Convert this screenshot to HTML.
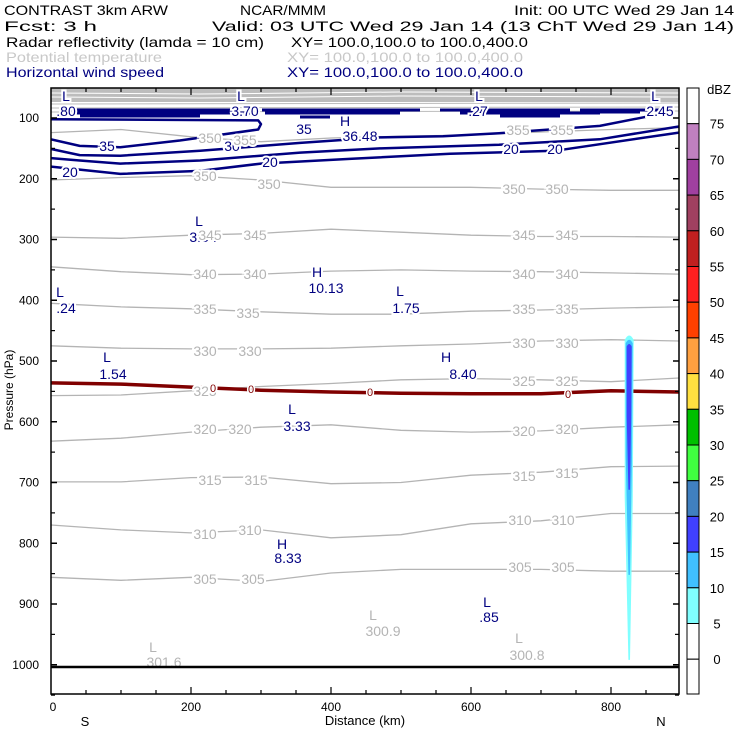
<!DOCTYPE html>
<html><head><meta charset="utf-8"><style>
html,body{margin:0;padding:0;background:#fff}
svg{display:block;font-family:"Liberation Sans",sans-serif}
</style></head><body>
<svg id="c" width="740" height="740" viewBox="0 0 740 740" xmlns="http://www.w3.org/2000/svg">
<g font-size="14">
<text x="4" y="15" textLength="164" lengthAdjust="spacingAndGlyphs">CONTRAST  3km ARW</text>
<text x="240" y="15" textLength="86" lengthAdjust="spacingAndGlyphs">NCAR/MMM</text>
<text x="514" y="15" textLength="220" lengthAdjust="spacingAndGlyphs">Init: 00 UTC Wed 29 Jan 14</text>
<text x="4" y="31" textLength="93" lengthAdjust="spacingAndGlyphs">Fcst:    3 h</text>
<text x="212" y="31" textLength="522" lengthAdjust="spacingAndGlyphs">Valid: 03 UTC Wed 29 Jan 14 (13 ChT Wed 29 Jan 14)</text>
<text x="6" y="47" textLength="258" lengthAdjust="spacingAndGlyphs">Radar reflectivity (lamda = 10 cm)</text>
<text x="291" y="47" textLength="237" lengthAdjust="spacingAndGlyphs">XY= 100.0,100.0 to 100.0,400.0</text>
<text x="6" y="62" fill="#c8c8c8" textLength="156" lengthAdjust="spacingAndGlyphs">Potential temperature</text>
<text x="287" y="62" fill="#c8c8c8" textLength="236" lengthAdjust="spacingAndGlyphs">XY= 100.0,100.0 to 100.0,400.0</text>
<text x="6" y="77" fill="#000080" textLength="158" lengthAdjust="spacingAndGlyphs">Horizontal wind speed</text>
<text x="287" y="77" fill="#000080" textLength="236" lengthAdjust="spacingAndGlyphs">XY= 100.0,100.0 to 100.0,400.0</text>
</g>
<g id="plot"></g>
</svg>
<script>
// ---- data ----
const nodesKm=[0,100,200,300,400,500,600,700,800,897];
const thetaLevels=[355,350,345,340,335,330,325,320,315,310,305];
const theta355=[124,119,131,139,133,130,128,123,119,116];
const theta350=[202,198,195,202,214,214,214,217,219,219];
const theta345=[296,298,293,290,283,288,293,295,295,296];
const theta340=[345,353,358,357,352,350,352,353,355,357];
const theta335=[405,411,414,419,423,423,418,416,413,411];
const theta330=[475,479,480,480,479,475,472,467,465,467];
const theta325=[557,556,549,542,537,531,529,531,534,528];
const theta320=[632,627,617,609,605,614,617,615,609,605];
const theta315=[699,699,692,691,702,700,688,683,674,673];
const theta310=[770,778,783,778,791,786,768,763,751,751];
const theta305=[856,861,856,863,849,843,843,843,846,846];
const freezeP=[536,538,543,548,551,553,554,554,549,551];
const windKm35=[0,41,99,184,296,300,296,0];
const windP35=[135,146,148,137,119,110,104,102];
const windKm30=[0,41,99,213,356,470,560,640,784,850];
const windP30=[151,161,162,154,141,132,130,125,113,98];
const windKm25=[0,41,99,213,356,470,640,784,897];
const windP25=[166,170,175,170,157,150,144,135,114];
const windKm20=[0,41,99,213,300,430,570,720,897];
const windP20=[180,185,192,187,175,167,159,154,124];
const reflLevels=[5,10,15];
const reflTopP=[458,465,472];
const reflBottomP=[992,852,712];
const dbzLevels=[0,5,10,15,20,25,30,35,40,45,50,55,60,65,70,75];
const dbzColors=["#ffffff","#80ffff","#40c0ff","#4040ff","#4080c0","#40ff40","#00c000","#ffe040","#ffa040","#ff4000","#ff2020","#c02020","#a04060","#a040a0","#c080c0","#ffffff"];
const pTicks=[100,200,300,400,500,600,700,800,900,1000];
const xTicks=[0,200,400,600,800];

// ---- scales ----
const X=km=>51+km*0.7;
const Y=p=>118+(p-100)*0.6075;
const NS="http://www.w3.org/2000/svg";
const plot=document.getElementById('plot');
function mk(tag,attrs,parent){const e=document.createElementNS(NS,tag);for(const k in attrs)e.setAttribute(k,attrs[k]);(parent||plot).appendChild(e);return e;}
function txt(s,x,y,fill,size,anchor,parent){const t=mk('text',{x:x,y:y,fill:fill,'font-size':size,'text-anchor':anchor||'start'},parent);t.textContent=s;return t;}

const defs=mk('defs',{});
const cp=mk('clipPath',{id:'clip'},defs);
mk('rect',{x:51,y:88,width:628,height:606},cp);
const g=mk('g',{'clip-path':'url(#clip)'});



const band=mk('rect',{x:51,y:88,width:628,height:14,fill:'#bdbdbd'},g);


[93,97].forEach(yy=>{const l=mk('path',{d:`M51 ${yy} L200 ${yy+1} L400 ${yy-1} L679 ${yy}`,stroke:'#fff','stroke-width':1,fill:'none'},g);});
[104,108,112].forEach(yy=>{const l=mk('path',{d:`M51 ${yy} L679 ${yy-1}`,stroke:'#bdbdbd','stroke-width':1,fill:'none'},g);});

const thetaSeries=[theta355,theta350,theta345,theta340,theta335,theta330,theta325,theta320,theta315,theta310,theta305];
thetaSeries.forEach((arr,i)=>{
  const d=arr.map((p,j)=>(j?'L':'M')+X(nodesKm[j]).toFixed(1)+' '+Y(p).toFixed(1)).join(' ');
  const l=mk('path',{d:d,stroke:'#b4b4b4','stroke-width':1.3,fill:'none'},g);
  
  
});

[[60,240,110],[60,250,113],[80,200,116],[262,420,110],[265,400,113],[440,570,110],[460,600,113],[300,330,117],[580,660,110],[590,640,112],[500,560,116]].forEach(s=>{
  const l=mk('line',{x1:s[0],y1:s[2],x2:s[1],y2:s[2],stroke:'#000080','stroke-width':3},g);
  
  
});
[[windKm35,windP35,'35'],[windKm30,windP30,'30'],[windKm25,windP25,'25'],[windKm20,windP20,'20']].forEach(w=>{
  const d=w[0].map((k,j)=>(j?'L':'M')+X(k).toFixed(1)+' '+Y(w[1][j]).toFixed(1)).join(' ');
  const l=mk('path',{d:d,stroke:'#000080','stroke-width':2.5,fill:'none','stroke-linejoin':'round'},g);
  
  
});

{const d=freezeP.map((p,j)=>(j?'L':'M')+X(nodesKm[j]).toFixed(1)+' '+Y(p).toFixed(1)).join(' ');
const l=mk('path',{d:d,stroke:'#800000','stroke-width':3.5,fill:'none'},g);

}

{const cols=["#80ffff","#40c0ff","#4040ff"];
 const widths=[4.5,3.5,2.5];
 const cx=X(826);
 reflLevels.forEach((lv,i)=>{
  const yt=Y(reflTopP[i]),yb=Y(reflBottomP[i]),w=widths[i];
  const d=`M${cx-w} ${yt+w} Q${cx} ${yt-w} ${cx+w} ${yt+w} L${cx+w*0.8} ${(yt+yb)/2} L${cx+0.8} ${yb} L${cx-0.8} ${yb} L${cx-w} ${(yt+yb)/2} Z`;
  const r=mk('path',{d:d,fill:cols[i]},g);
  
  
 });}

{const l=mk('line',{x1:51,y1:667,x2:679,y2:667,stroke:'#000','stroke-width':2.5});

}

const labels=[
 ['L',66,101,'#000080'],['.80',66,116,'#000080'],['L',241,101,'#000080'],['3.70',245,116,'#000080'],
 ['L',479,101,'#000080'],['.27',478,116,'#000080'],['L',655,101,'#000080'],['2.45',660,116,'#000080'],
 ['H',345,126,'#000080'],['36.48',360,141,'#000080'],['35',304,134,'#000080'],['35',107,151,'#000080'],
 ['30',232,151,'#000080'],['20',270,167,'#000080'],['20',70,177,'#000080'],['20',511,154,'#000080'],['20',555,154,'#000080'],
 ['350',210,143,'#b4b4b4'],['355',245,145,'#b4b4b4'],['355',518,135,'#b4b4b4'],['355',562,135,'#b4b4b4'],
 ['350',205,181,'#b4b4b4'],['350',269,189,'#b4b4b4'],['350',514,194,'#b4b4b4'],['350',557,194,'#b4b4b4'],
 ['L',199,226,'#000080'],['3.51',203,242,'#000080'],['345',210,240,'#b4b4b4'],['345',255,240,'#b4b4b4'],['345',524,240,'#b4b4b4'],['345',567,240,'#b4b4b4'],
 ['340',205,279,'#b4b4b4'],['340',255,279,'#b4b4b4'],['340',524,279,'#b4b4b4'],['340',567,279,'#b4b4b4'],
 ['H',317,277,'#000080'],['10.13',326,293,'#000080'],['L',60,297,'#000080'],['.24',66,313,'#000080'],
 ['L',400,296,'#000080'],['1.75',406,313,'#000080'],
 ['335',205,314,'#b4b4b4'],['335',248,318,'#b4b4b4'],['335',524,314,'#b4b4b4'],['335',567,314,'#b4b4b4'],
 ['330',205,356,'#b4b4b4'],['330',250,356,'#b4b4b4'],['330',524,348,'#b4b4b4'],['330',567,348,'#b4b4b4'],
 ['L',107,362,'#000080'],['1.54',113,379,'#000080'],['H',446,362,'#000080'],['8.40',463,379,'#000080'],
 ['325',524,386,'#b4b4b4'],['325',567,386,'#b4b4b4'],['325',205,396,'#b4b4b4'],
 ['L',292,414,'#000080'],['3.33',297,431,'#000080'],
 ['320',205,434,'#b4b4b4'],['320',240,434,'#b4b4b4'],['320',524,436,'#b4b4b4'],['320',567,434,'#b4b4b4'],
 ['315',210,485,'#b4b4b4'],['315',256,485,'#b4b4b4'],['315',524,481,'#b4b4b4'],['315',567,478,'#b4b4b4'],
 ['310',205,539,'#b4b4b4'],['310',250,535,'#b4b4b4'],['310',520,525,'#b4b4b4'],['310',563,525,'#b4b4b4'],
 ['H',282,549,'#000080'],['8.33',288,563,'#000080'],
 ['305',205,584,'#b4b4b4'],['305',253,584,'#b4b4b4'],['305',520,572,'#b4b4b4'],['305',563,572,'#b4b4b4'],
 ['L',487,607,'#000080'],['.85',489,622,'#000080'],['L',373,620,'#b4b4b4'],['300.9',383,636,'#b4b4b4'],
 ['L',519,643,'#b4b4b4'],['300.8',527,660,'#b4b4b4'],['L',153,652,'#b4b4b4'],['301.6',164,667,'#b4b4b4']
];
labels.forEach(l=>{
  const t=txt(l[0],l[1],l[2],l[3],14,'middle',g);
  t.setAttribute('stroke','#fff');
  t.setAttribute('stroke-width','4');
  t.setAttribute('paint-order','stroke');
  
  
});
[[213,388],[251,389],[370,392],[568,394]].forEach(p=>{
  const t=txt('0',p[0],p[1]+4,'#800000',11,'middle',g);
  t.setAttribute('stroke','#fff');
  t.setAttribute('stroke-width','3');
  t.setAttribute('paint-order','stroke');
  
  
});

{const f=mk('rect',{x:51,y:88,width:628,height:606,fill:'none',stroke:'#000','stroke-width':1.5});

}

pTicks.forEach(p=>{
  const y=Y(p);
  const a=mk('line',{x1:51,y1:y,x2:57,y2:y,stroke:'#000','stroke-width':1.5});
  
  
  const b=mk('line',{x1:673,y1:y,x2:679,y2:y,stroke:'#000','stroke-width':1.5});
  
  
  const m=Y(p+50);
  [[51,55],[675,679]].forEach(s=>{const mm=mk('line',{x1:s[0],y1:m,x2:s[1],y2:m,stroke:'#000','stroke-width':1.2});});
  const t=txt(String(p),39,y+4,'#000',12,'end');
  
  
});
for(let k=50;k<=850;k+=50){
  const major=(k%200===0);const len=major?7:4;const x=X(k);
  const a=mk('line',{x1:x,y1:694,x2:x,y2:694-len,stroke:'#000','stroke-width':1.2});
  
  
  const b=mk('line',{x1:x,y1:88,x2:x,y2:88+len,stroke:'#000','stroke-width':1.2});
  
  
}
xTicks.forEach(k=>{
  const t=txt(String(k),X(k)+(k===0?2:0),711,'#000',12,'middle');
  
  
});
{let t=txt('S',85,726,'#000',13,'middle');
t=txt('N',661,726,'#000',13,'middle');
t=txt('Distance (km)',365,725,'#000',13,'middle');
t=txt('Pressure (hPa)',0,0,'#000',12,'middle');t.setAttribute('transform','translate(13,390) rotate(-90)');}

const cbTop=88,cbStep=35.7;
for(let i=dbzColors.length-1;i>=0;i--){
  const idxFromTop=dbzColors.length-1-i;
  const r=mk('rect',{x:687,y:cbTop+idxFromTop*cbStep,width:12,height:cbStep,fill:dbzColors[i],stroke:'#000','stroke-width':1});
  
  
}
{const r=mk('rect',{x:687,y:cbTop+16*cbStep,width:12,height:694-(cbTop+16*cbStep),fill:'#fff',stroke:'#000','stroke-width':1});
}
dbzLevels.forEach((v,i)=>{
  const y=cbTop+(16-i)*cbStep;
  const t=txt(String(v),717,y+5,'#000',13,'middle');
  
  
});
{const t=txt('dBZ',719,94,'#000',13,'middle');}
</script>
</body></html>
